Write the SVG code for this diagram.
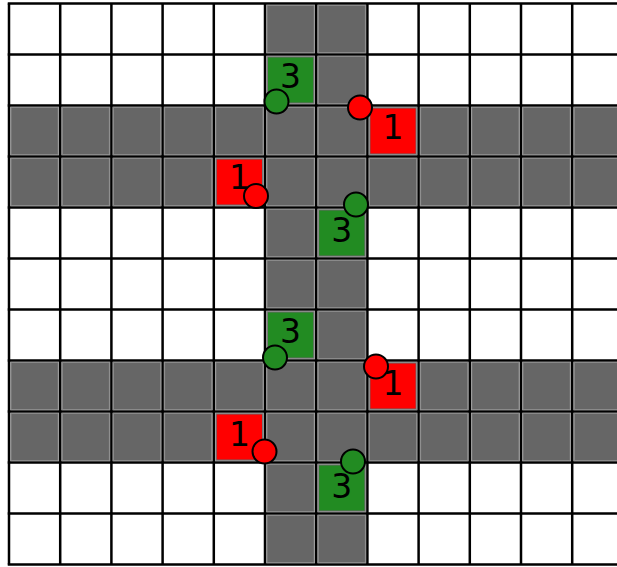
<svg xmlns="http://www.w3.org/2000/svg" xmlns:xlink="http://www.w3.org/1999/xlink" width="617" height="567" viewBox="0 0 617 567">
<style>
.gray{fill:#666666;stroke:#8a8a8a;stroke-width:1}
.red{fill:#ff0000}
.green{fill:#228b22}
.lbl{font-family:"DejaVu Sans",sans-serif;font-size:33px;fill:#000;text-anchor:middle}
.grid line{stroke:#000;stroke-width:2.5}
.dotr{fill:#ff0000;stroke:#000;stroke-width:2}
.dotg{fill:#228b22;stroke:#000;stroke-width:2}
</style>
<defs>
<rect id="g" width="47.2" height="47" class="gray"/>
</defs>
<rect width="617" height="567" fill="#fff"/>
<g id="gray-cells">
<use xlink:href="#g" href="#g" x="11" y="107.5"/><use href="#g" x="62.2" y="107.5"/><use href="#g" x="113.4" y="107.5"/><use href="#g" x="164.6" y="107.5"/><use href="#g" x="215.8" y="107.5"/><use href="#g" x="267" y="107.5"/><use href="#g" x="318.2" y="107.5"/><use href="#g" x="369.4" y="107.5"/><use href="#g" x="420.6" y="107.5"/><use href="#g" x="471.8" y="107.5"/><use href="#g" x="523" y="107.5"/><use href="#g" x="574.2" y="107.5"/>
<use href="#g" x="11" y="158.5"/><use href="#g" x="62.2" y="158.5"/><use href="#g" x="113.4" y="158.5"/><use href="#g" x="164.6" y="158.5"/><use href="#g" x="215.8" y="158.5"/><use href="#g" x="267" y="158.5"/><use href="#g" x="318.2" y="158.5"/><use href="#g" x="369.4" y="158.5"/><use href="#g" x="420.6" y="158.5"/><use href="#g" x="471.8" y="158.5"/><use href="#g" x="523" y="158.5"/><use href="#g" x="574.2" y="158.5"/>
<use href="#g" x="11" y="362.5"/><use href="#g" x="62.2" y="362.5"/><use href="#g" x="113.4" y="362.5"/><use href="#g" x="164.6" y="362.5"/><use href="#g" x="215.8" y="362.5"/><use href="#g" x="267" y="362.5"/><use href="#g" x="318.2" y="362.5"/><use href="#g" x="369.4" y="362.5"/><use href="#g" x="420.6" y="362.5"/><use href="#g" x="471.8" y="362.5"/><use href="#g" x="523" y="362.5"/><use href="#g" x="574.2" y="362.5"/>
<use href="#g" x="11" y="413.5"/><use href="#g" x="62.2" y="413.5"/><use href="#g" x="113.4" y="413.5"/><use href="#g" x="164.6" y="413.5"/><use href="#g" x="215.8" y="413.5"/><use href="#g" x="267" y="413.5"/><use href="#g" x="318.2" y="413.5"/><use href="#g" x="369.4" y="413.5"/><use href="#g" x="420.6" y="413.5"/><use href="#g" x="471.8" y="413.5"/><use href="#g" x="523" y="413.5"/><use href="#g" x="574.2" y="413.5"/>
<use href="#g" x="267" y="5.5"/><use href="#g" x="318.2" y="5.5"/>
<use href="#g" x="267" y="56.5"/><use href="#g" x="318.2" y="56.5"/>
<use href="#g" x="267" y="209.5"/><use href="#g" x="318.2" y="209.5"/>
<use href="#g" x="267" y="260.5"/><use href="#g" x="318.2" y="260.5"/>
<use href="#g" x="267" y="311.5"/><use href="#g" x="318.2" y="311.5"/>
<use href="#g" x="267" y="464.5"/><use href="#g" x="318.2" y="464.5"/>
<use href="#g" x="267" y="515.5"/><use href="#g" x="318.2" y="515.5"/>
</g>
<g id="special-cells">
<g id="c-green-1"><rect class="green" x="268" y="57.5" width="45.2" height="45"/><text class="lbl" x="290.6" y="88">3</text></g>
<g id="c-red-1"><rect class="red" x="370.4" y="108.5" width="45.2" height="45"/><text class="lbl" x="393" y="139">1</text></g>
<g id="c-red-2"><rect class="red" x="216.8" y="159.5" width="45.2" height="45"/><text class="lbl" x="239.4" y="189">1</text></g>
<g id="c-green-2"><rect class="green" x="319.2" y="210.5" width="45.2" height="45"/><text class="lbl" x="341.8" y="241.5">3</text></g>
<g id="c-green-3"><rect class="green" x="268" y="312.5" width="45.2" height="45"/><text class="lbl" x="290.6" y="343">3</text></g>
<g id="c-red-3"><rect class="red" x="370.4" y="363.5" width="45.2" height="45"/><text class="lbl" x="393" y="395">1</text></g>
<g id="c-red-4"><rect class="red" x="216.8" y="414.5" width="45.2" height="45"/><text class="lbl" x="239.4" y="446">1</text></g>
<g id="c-green-4"><rect class="green" x="319.2" y="465.5" width="45.2" height="45"/><text class="lbl" x="341.8" y="498">3</text></g>
</g>
<g id="grid" class="grid">
<line x1="9" y1="3.5" x2="9" y2="564.5"/><line x1="60.2" y1="3.5" x2="60.2" y2="564.5"/><line x1="111.4" y1="3.5" x2="111.4" y2="564.5"/><line x1="162.6" y1="3.5" x2="162.6" y2="564.5"/><line x1="213.8" y1="3.5" x2="213.8" y2="564.5"/><line x1="265" y1="3.5" x2="265" y2="564.5"/><line x1="316.2" y1="3.5" x2="316.2" y2="564.5"/><line x1="367.4" y1="3.5" x2="367.4" y2="564.5"/><line x1="418.6" y1="3.5" x2="418.6" y2="564.5"/><line x1="469.8" y1="3.5" x2="469.8" y2="564.5"/><line x1="521" y1="3.5" x2="521" y2="564.5"/><line x1="572.2" y1="3.5" x2="572.2" y2="564.5"/>
<line x1="7.75" y1="3.5" x2="617" y2="3.5"/><line x1="7.75" y1="54.5" x2="617" y2="54.5"/><line x1="7.75" y1="105.5" x2="617" y2="105.5"/><line x1="7.75" y1="156.5" x2="617" y2="156.5"/><line x1="7.75" y1="207.5" x2="617" y2="207.5"/><line x1="7.75" y1="258.5" x2="617" y2="258.5"/><line x1="7.75" y1="309.5" x2="617" y2="309.5"/><line x1="7.75" y1="360.5" x2="617" y2="360.5"/><line x1="7.75" y1="411.5" x2="617" y2="411.5"/><line x1="7.75" y1="462.5" x2="617" y2="462.5"/><line x1="7.75" y1="513.5" x2="617" y2="513.5"/><line x1="7.75" y1="564.5" x2="617" y2="564.5"/>
</g>
<g id="markers">
<circle id="m1" class="dotg" cx="276.5" cy="101.5" r="12"/>
<circle id="m2" class="dotr" cx="360" cy="107.5" r="12"/>
<circle id="m3" class="dotr" cx="256" cy="196" r="12"/>
<circle id="m4" class="dotg" cx="356" cy="204.5" r="12"/>
<circle id="m5" class="dotg" cx="275" cy="357.5" r="12"/>
<circle id="m6" class="dotr" cx="376" cy="366.5" r="12"/>
<circle id="m7" class="dotr" cx="264.5" cy="451.5" r="12"/>
<circle id="m8" class="dotg" cx="353" cy="461.5" r="12"/>
</g>
</svg>
